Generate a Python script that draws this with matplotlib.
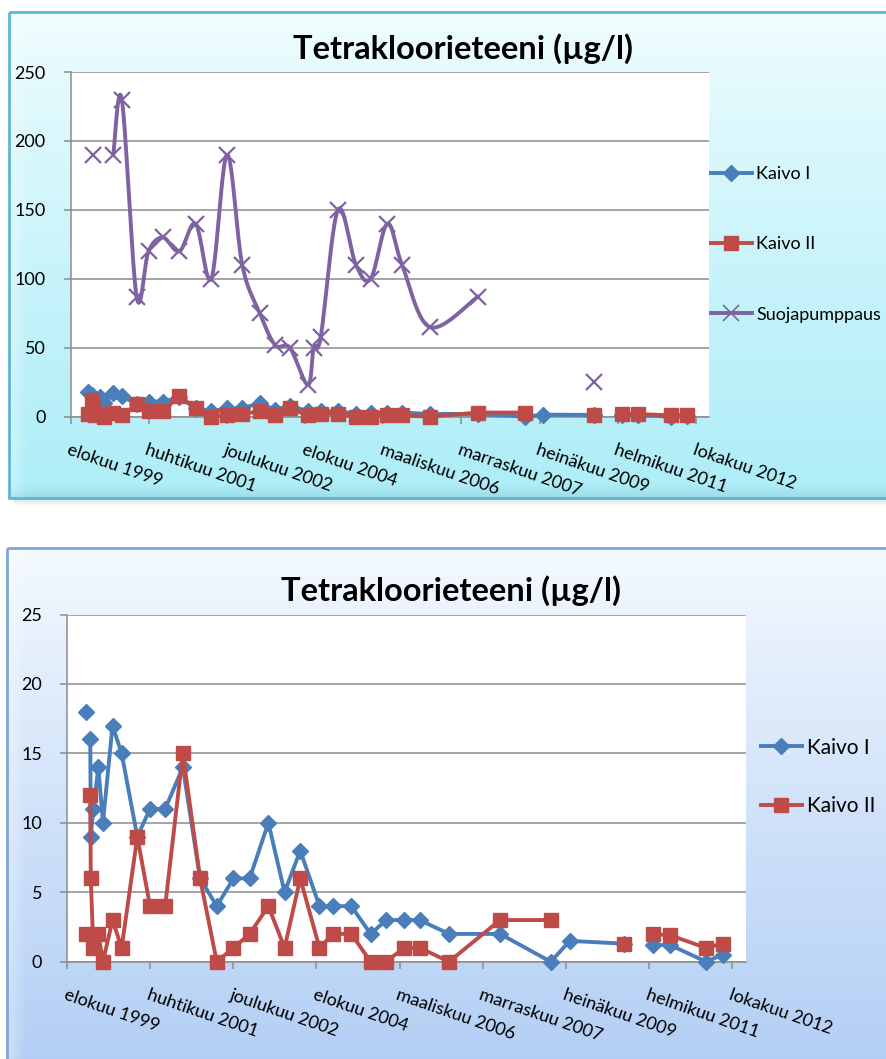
import numpy as np
import matplotlib
matplotlib.use("Agg")
import matplotlib.pyplot as plt
from matplotlib.patches import Rectangle

nan = np.nan

# --- data ----------------------------------------------------------------
TITLE = "Tetrakloorieteeni (µg/l)"
TICK_LABELS = ["elokuu 1999", "huhtikuu 2001", "joulukuu 2002", "elokuu 2004",
               "maaliskuu 2006", "marraskuu 2007", "heinäkuu 2009", "helmikuu 2011",
               "lokakuu 2012"]
TICK_START = 1999.58   # decimal year of the first tick
TICK_STEP = 1.643      # 600 days between ticks
X_END = 2013.0

KAIVO_YEARS = [1999.95, 2000.00, 2000.04, 2000.05, 2000.10, 2000.20, 2000.29, 2000.48, 2000.66, 2000.97,
               2001.22, 2001.52, 2001.87, 2002.21, 2002.54, 2002.87, 2003.19, 2003.56, 2003.88, 2004.19,
               2004.57, 2004.84, 2005.20, 2005.58, 2005.89, 2006.24, 2006.55, 2007.13, 2008.14, 2009.14,
               2009.52, 2010.58, 2010.86, 2011.17, 2011.50, 2012.21, 2012.54]
KAIVO_I = [18, nan, 16, 9, 11, 14, 10, 17, 15, 9,
           11, 11, 14, 6, 4, 6, 6, 10, 5, 8,
           4, 4, 4, 2, 3, 3, 3, 2, 2, 0,
           1.5, 1.3, nan, 1.2, 1.2, 0, 0.5]
KAIVO_II = [2, nan, 12, 6, 1, 2, 0, 3, 1, 9,
            4, 4, 15, 6, 0, 1, 2, 4, 1, 6,
            1, 2, 2, 0, 0, 1, 1, 0, 3, 3,
            nan, 1.3, nan, 2, 1.9, 1, 1.3]

SUOJA_YEARS = [2000.05, 2000.30, 2000.48, 2000.66, 2000.97, 2001.22, 2001.52, 2001.87, 2002.21,
               2002.54, 2002.87, 2003.19, 2003.56, 2003.88, 2004.19, 2004.57, 2004.69, 2004.84,
               2005.20, 2005.58, 2005.89, 2006.24, 2006.55, 2007.13, 2008.14, 2009.50, 2010.58]
SUOJA = [190, nan, 190, 230, 87, 120, 130, 120, 140,
         100, 190, 110, 75, 52, 50, 23, 50, 58,
         150, 110, 100, 140, 110, 65, 87, nan, 25]

BLUE, RED, PURPLE = "#4A7EBB", "#BE4B48", "#7E62A1"
GRID = "#8C8C8C"
FONT = ["Lato", "DejaVu Sans"]

plt.rcParams["font.family"] = FONT
W, H = 886, 1059
fig = plt.figure(figsize=(W / 100, H / 100), dpi=100)
fig.patch.set_facecolor("white")

# --- panel backgrounds (pixel coordinates) --------------------------------
bg = fig.add_axes([0, 0, 1, 1], zorder=-10)
bg.set_xlim(0, W)
bg.set_ylim(H, 0)
bg.axis("off")


def panel(x0, y0, x1, y1, top, bot, edge, gamma):
    h, w = int(y1 - y0), int(x1 - x0)
    t = (np.linspace(0, 1, h)[:, None, None]) ** gamma
    img = np.asarray(top)[None, None, :] * (1 - t) + np.asarray(bot)[None, None, :] * t
    img = np.repeat(img, w, axis=1)
    # bevel: lighter strip on the left, darker strip along the bottom
    xs = np.arange(w)
    left = np.clip(1 - xs / 18.0, 0, 1)[None, :, None] * 0.35
    img = img * (1 - left) + left
    ys = np.arange(h)
    low = np.clip((ys - (h - 14)) / 14.0, 0, 1)[:, None, None] * 0.07
    img = np.clip(img - low, 0, 1)
    bg.imshow(img, extent=(x0, x1, y1, y0), aspect="auto", interpolation="bilinear", zorder=1)
    bg.add_patch(Rectangle((x0, y0), x1 - x0, y1 - y0, fill=False, ec=edge, lw=2, zorder=2))


# soft shadow under the upper panel
for i, a in enumerate([0.25, 0.15, 0.08, 0.04]):
    bg.add_patch(Rectangle((14, 498 + i * 2), 900, 2, fc="#606060", ec="none", alpha=a, zorder=0))

panel(9, 12, 900, 498, (0.95, 0.995, 1.0), (0.68, 0.93, 0.97), "#5CB8D2", 0.8)
panel(7, 548, 900, 1070, (0.96, 0.98, 1.0), (0.70, 0.81, 0.96), "#7FA6D6", 0.9)


def tick_positions():
    return [TICK_START + k * TICK_STEP for k in range(len(TICK_LABELS))]


def smooth_runs(ax, xs, ys, sx, sy, **kw):
    """Draw an Excel-like smoothed line (cardinal Bezier) through each run without gaps."""
    xs, ys = np.asarray(xs, float), np.asarray(ys, float)
    ok = ~np.isnan(ys)
    runs, cur = [], []
    for i in range(len(xs)):
        if ok[i]:
            cur.append(i)
        elif cur:
            runs.append(cur); cur = []
    if cur:
        runs.append(cur)
    for r in runs:
        if len(r) < 2:
            continue
        P = np.column_stack([xs[r] * sx, ys[r] * sy])
        out = []
        s = np.linspace(0, 1, 25)[:, None]
        for i in range(len(P) - 1):
            p0 = P[max(i - 1, 0)]; p1 = P[i]; p2 = P[i + 1]; p3 = P[min(i + 2, len(P) - 1)]
            c1 = p1 + (p2 - p0) / 6.0
            c2 = p2 - (p3 - p1) / 6.0
            seg = ((1 - s) ** 3) * p1 + 3 * ((1 - s) ** 2) * s * c1 + 3 * (1 - s) * s ** 2 * c2 + s ** 3 * p2
            out.append(seg)
        C = np.vstack(out)
        ax.plot(C[:, 0] / sx, C[:, 1] / sy, **kw)


def style_axes(ax, ymax, ystep, label_size):
    ax.set_facecolor("white")
    ax.set_xlim(TICK_START, X_END)
    ax.set_ylim(0, ymax)
    ax.set_yticks(np.arange(0, ymax + 1, ystep))
    ax.yaxis.grid(True, color=GRID, lw=1.1)
    ax.set_axisbelow(True)
    for side in ("top", "right"):
        ax.spines[side].set_visible(False)
    for side in ("left", "bottom"):
        ax.spines[side].set_color(GRID)
        ax.spines[side].set_linewidth(1.1)
    ax.tick_params(axis="y", length=5, width=1.1, color=GRID, pad=13, labelsize=label_size)
    ax.set_xticks(tick_positions())
    ax.set_xticklabels(TICK_LABELS)
    ax.tick_params(axis="x", length=5, width=1.1, color=GRID, pad=13, labelsize=label_size)
    for lab in ax.get_xticklabels():
        lab.set_rotation(-19)
        lab.set_ha("left")
        lab.set_va("top")
        lab.set_rotation_mode("anchor")


def kaivo_lines(ax):
    ax.plot(KAIVO_YEARS, KAIVO_I, color=BLUE, lw=2.8, marker="D", ms=8.5,
            mec=BLUE, mfc=BLUE, label="Kaivo I", zorder=3, clip_on=False)
    ax.plot(KAIVO_YEARS, KAIVO_II, color=RED, lw=2.8, marker="s", ms=10,
            mec=RED, mfc=RED, label="Kaivo II", zorder=4, clip_on=False)


# --- upper chart: 0..250 with Suojapumppaus -------------------------------
ax1 = fig.add_axes([70.5 / W, 1 - 416.7 / H, 638.5 / W, 344.7 / H])
style_axes(ax1, 250, 50, 13)
kaivo_lines(ax1)
sx1 = 638.5 / (X_END - TICK_START)
sy1 = 344.7 / 250.0
smooth_runs(ax1, SUOJA_YEARS, SUOJA, sx1, sy1, color=PURPLE, lw=2.8, zorder=5)
ax1.plot(SUOJA_YEARS, SUOJA, ls="none", marker="x", ms=12, mew=1.6, color=PURPLE, zorder=6)
ax1.plot([], [], color=PURPLE, lw=2.8, marker="x", ms=12, mew=1.2, label="Suojapumppaus")
ax1.legend(loc="center left", bbox_to_anchor=(1.003, 0.50), frameon=False, fontsize=13,
           handlelength=2.25, handletextpad=0.25, labelspacing=3.0, borderpad=0, borderaxespad=0)
fig.text(463 / W, 1 - 49 / H, TITLE, ha="center", va="center", fontsize=23.5, fontweight="bold")

# --- lower chart: 0..25 wells only ----------------------------------------
ax2 = fig.add_axes([67 / W, 1 - 961.7 / H, 679 / W, 347.2 / H])
style_axes(ax2, 25, 5, 13)
kaivo_lines(ax2)
ax2.legend(loc="center left", bbox_to_anchor=(1.022, 0.532), frameon=False, fontsize=15,
           handlelength=1.95, handletextpad=0.25, labelspacing=1.85, borderpad=0, borderaxespad=0)
fig.text(451 / W, 1 - 591 / H, TITLE, ha="center", va="center", fontsize=23.5, fontweight="bold")

fig.savefig("out.png", dpi=100)
